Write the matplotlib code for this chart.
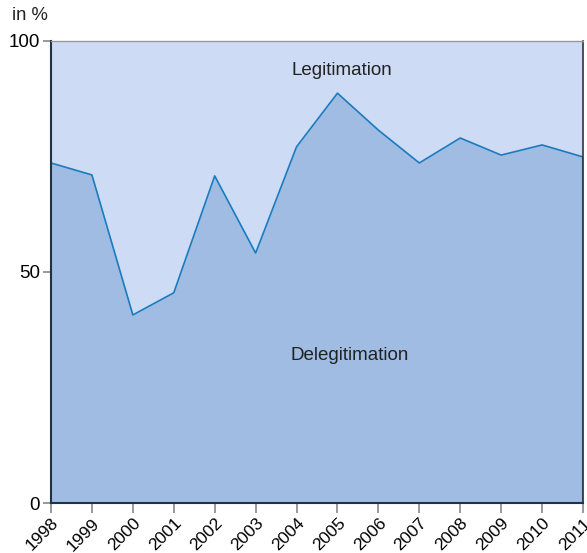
import matplotlib
matplotlib.use("Agg")
import matplotlib.pyplot as plt

plt.rcParams['font.family'] = ['Liberation Sans', 'DejaVu Sans']

years = [1998, 1999, 2000, 2001, 2002, 2003, 2004, 2005, 2006, 2007, 2008, 2009, 2010, 2011]
delegitimation = [73.6, 71.0, 40.7, 45.5, 70.8, 54.1, 77.1, 88.7, 80.7, 73.6, 79.0, 75.3, 77.5, 74.9]
total = [100] * len(years)

light = '#cddbf4'
dark = '#a0bce3'
line_col = '#1a7bbf'

fig = plt.figure(figsize=(5.87, 5.53), dpi=100)
ax = fig.add_axes([0.0869, 0.0904, 0.9063, 0.8355])

ax.fill_between(years, 0, total, color=light, linewidth=0)
ax.fill_between(years, 0, delegitimation, color=dark, linewidth=0)
ax.plot(years, delegitimation, color=line_col, linewidth=1.2)
ax.plot([years[-1], years[-1]], [0, delegitimation[-1]], color=line_col, linewidth=1.5)

ax.set_xlim(1998, 2011)
ax.set_ylim(0, 100)
ax.set_yticks([0, 50, 100])
ax.set_xticks(years)
ax.set_xticklabels([str(y) for y in years], rotation=45, ha='right',
                   rotation_mode='anchor', fontsize=12.5)
ax.tick_params(axis='y', labelsize=13.5, length=6, color='#888888', width=1.2, pad=2)
ax.tick_params(axis='x', length=7, color='#888888', width=1.2, pad=2)

for side in ['left', 'bottom']:
    ax.spines[side].set_color('#1f3347')
    ax.spines[side].set_linewidth(1.5)
ax.spines['top'].set_color('#999999')
ax.spines['top'].set_linewidth(1.0)
ax.spines['right'].set_color('#333333')
ax.spines['right'].set_linewidth(1.2)

ax.text(2005.1, 93.7, 'Legitimation', ha='center', va='center', fontsize=13.5, color='#222222')
ax.text(2005.3, 32, 'Delegitimation', ha='center', va='center', fontsize=13.5, color='#222222')
fig.text(0.02, 0.972, 'in %', ha='left', va='center', fontsize=13.3, color='#222222')

fig.savefig('out.png', dpi=100)
